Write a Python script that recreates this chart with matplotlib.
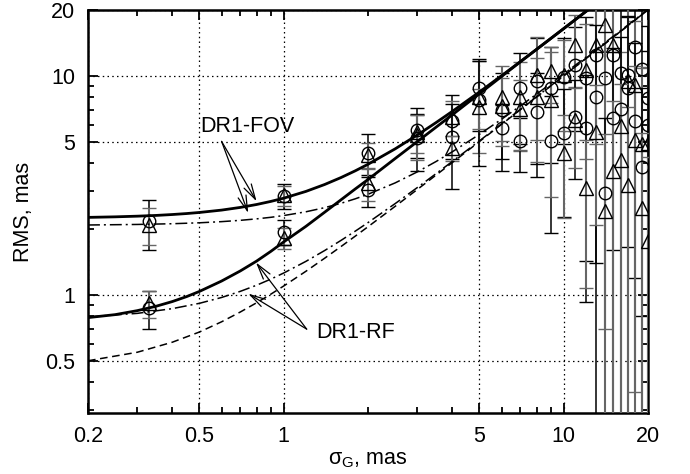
import numpy as np
import matplotlib
matplotlib.use('Agg')
import matplotlib.pyplot as plt
from matplotlib.ticker import FixedLocator, FixedFormatter, NullFormatter

plt.rcParams['font.family'] = ['Liberation Sans', 'DejaVu Sans']
plt.rcParams['mathtext.fontset'] = 'custom'
plt.rcParams['mathtext.rm'] = 'Liberation Sans'
plt.rcParams['mathtext.it'] = 'Liberation Sans:italic'

# ---------------- data ----------------
sigma = [0.33, 1, 2, 3, 4, 5, 6, 7, 8, 9, 10, 11, 12, 13, 14, 15, 16, 17, 18, 19, 20]

circ_a = [2.17, 2.84, 4.45, 5.67, 6.2, 8.8, 7.0, 8.8, 9.45, 8.8, 9.9, 11.2, 9.8, 12.5, 9.8, 12.5, 10.3, 10.1, 13.6, 10.8, 7.93]
circ_a_err = [0.56, 0.36, 0.98, 1.45, 2.0, 3.2, 3.3, 3.9, 5.5, 4.8, 5.0, 5.6, 8.87, 11.1, 12.0, 10.9, 12.0, 8.45, 12.4, 10.0, 9.0]

tri_a = [2.10, 2.85, 4.37, 5.55, 6.5, 8.05, 8.05, 8.05, 10.1, 10.5, 10.1, 13.9, 10.7, 13.9, 17.1, 13.9, 5.9, 9.45, 9.1, 4.9, 4.94]
tri_a_err = [0.40, 0.30, 0.60, 1.10, 1.2, 3.6, 3.0, 3.5, 5.0, 3.0, 4.5, 5.0, 6.5, 9.0, 16.4, 15.0, 7.0, 12.0, 8.74, 6.0, 6.0]

circ_b = [0.87, 1.95, 3.03, 5.2, 5.26, 7.8, 5.8, 5.03, 6.87, 5.03, 5.48, 6.5, 5.78, 8.05, 2.94, 6.42, 7.1, 8.8, 6.2, 3.86, 6.0]
circ_b_err = [0.17, 0.26, 0.50, 1.50, 2.2, 3.9, 1.6, 1.4, 3.4, 3.1, 3.2, 3.1, 4.35, 9.0, 3.5, 7.0, 8.0, 10.0, 8.0, 5.0, 7.0]

tri_b = [0.92, 1.82, 3.25, 5.4, 4.7, 7.25, 7.3, 7.1, 8.05, 7.8, 4.45, 6.3, 3.08, 5.58, 2.41, 3.67, 4.15, 3.19, 5.1, 2.5, 1.76]
tri_b_err = [0.13, 0.20, 0.55, 1.25, 0.6, 1.5, 2.5, 2.5, 4.0, 5.0, 2.2, 2.5, 2.0, 3.5, 3.0, 4.0, 5.0, 4.0, 6.0, 3.0, 2.5]

solid_x = [0.2, 0.25, 0.3, 0.35, 0.4, 0.45, 0.5, 0.6, 0.7, 0.8, 0.9, 1.0, 1.2, 1.4, 1.6, 1.8,
           2.0, 2.5, 3.0, 3.5, 4.0, 5, 6, 7, 8, 10, 12, 13]
fov_solid = [2.264, 2.277, 2.293, 2.311, 2.333, 2.357, 2.384, 2.444, 2.514, 2.592, 2.678, 2.770,
             2.974, 3.198, 3.438, 3.691, 3.955, 4.650, 5.379, 6.129, 6.894, 8.452, 10.033, 11.628,
             13.231, 16.453, 19.688, 21.307]
rf_solid = [0.79, 0.815, 0.85, 0.89, 0.935, 0.985, 1.04, 1.16, 1.29, 1.43, 1.585, 1.75,
            2.06, 2.39, 2.72, 3.05, 3.37, 4.2, 5.02, 5.84, 6.65, 8.3, 9.95, 11.6,
            13.22, 16.45, 19.69, 21.31]

line_x = [0.2, 0.3, 0.4, 0.5, 0.6, 0.7, 0.8, 0.9, 1.0, 1.2, 1.4, 1.6, 1.8, 2.0, 2.5, 3.0, 3.5,
          4.0, 5, 6, 7, 8, 10, 12, 15, 20]
fov_dashdot = [2.090, 2.102, 2.118, 2.139, 2.165, 2.195, 2.229, 2.266, 2.308, 2.401, 2.507,
               2.624, 2.751, 2.886, 3.252, 3.651, 4.071, 4.509, 5.415, 6.350, 7.303, 8.266,
               10.214, 12.179, 15.144, 20.108]
rf_dashdot = [0.796, 0.826, 0.868, 0.918, 0.976, 1.041, 1.110, 1.184, 1.262, 1.426, 1.598,
              1.776, 1.958, 2.143, 2.616, 3.097, 3.584, 4.074, 5.059, 6.049, 7.042, 8.037,
              10.030, 12.025, 15.020, 20.015]
rf_dashed = [0.502, 0.549, 0.610, 0.679, 0.756, 0.838, 0.923, 1.011, 1.101, 1.285, 1.474,
             1.665, 1.858, 2.052, 2.542, 3.035, 3.530, 4.026, 5.021, 6.018, 7.015, 8.013,
             10.011, 12.009, 15.007, 20.005]

x_major = [0.2, 0.5, 1, 5, 10, 20]
x_major_labels = ['0.2', '0.5', '1', '5', '10', '20']
x_minor = [0.3, 0.4, 0.6, 0.7, 0.8, 0.9, 2, 3, 4, 6, 7, 8, 9]
y_major = [0.5, 1, 5, 10, 20]
y_major_labels = ['0.5', '1', '5', '10', '20']
y_minor = [0.3, 0.4, 0.6, 0.7, 0.8, 0.9, 2, 3, 4, 6, 7, 8, 9]

# ---------------- figure ----------------
fig = plt.figure(figsize=(6.9, 4.74), dpi=100)
ax = fig.add_axes([88/690, 61/474, 560/690, 403/474])
ax.set_xscale('log')
ax.set_yscale('log')

lw_thin = 1.1
ax.plot(solid_x, fov_solid, color='k', lw=2.0, zorder=4)
ax.plot(solid_x, rf_solid, color='k', lw=2.0, zorder=4)
ax.plot(line_x, fov_dashdot, color='k', lw=lw_thin, dashes=[7.8, 2.6, 1.3, 2.6], zorder=4)
ax.plot(line_x, rf_dashdot, color='k', lw=lw_thin, dashes=[7.8, 2.6, 1.3, 2.6], zorder=4)
ax.plot(line_x, rf_dashed, color='k', lw=lw_thin, dashes=[5, 3], zorder=4)

series = [
    (circ_a, circ_a_err, 'o', 'black'),
    (tri_a, tri_a_err, '^', '0.4'),
    (circ_b, circ_b_err, 'o', 'black'),
    (tri_b, tri_b_err, '^', '0.4'),
]
for yv, ev, mk, ec in series:
    yv = np.asarray(yv, float)
    ev = np.asarray(ev, float)
    lower = np.minimum(ev, yv - 1e-3)
    ax.errorbar(sigma, yv, yerr=[lower, ev], fmt=mk, mfc='none', mec='k',
                mew=1.0, ms=9.5 if mk == '^' else 9, ecolor=ec,
                elinewidth=1.1 if ec == 'black' else 1.5, capsize=5,
                capthick=1.0, ls='none', zorder=3)

ax.set_xlim(0.2, 20)
ax.set_ylim(0.29, 20)

ax.xaxis.set_major_locator(FixedLocator(x_major))
ax.xaxis.set_major_formatter(FixedFormatter(x_major_labels))
ax.xaxis.set_minor_locator(FixedLocator(x_minor))
ax.xaxis.set_minor_formatter(NullFormatter())
ax.yaxis.set_major_locator(FixedLocator(y_major))
ax.yaxis.set_major_formatter(FixedFormatter(y_major_labels))
ax.yaxis.set_minor_locator(FixedLocator(y_minor))
ax.yaxis.set_minor_formatter(NullFormatter())

ax.set_axisbelow(True)
ax.grid(True, which='major', color='k', lw=0.9, ls=(0, (1.2, 2.6)))

ax.tick_params(which='both', direction='in', top=True, right=True, labelsize=15.5, width=1.3)
ax.tick_params(which='major', length=7, pad=9)
ax.tick_params(which='minor', length=4)
for sp in ax.spines.values():
    sp.set_linewidth(1.8)

ax.set_xlabel('σ$_\\mathregular{G}$, mas', fontsize=15.5, labelpad=2)
ax.set_ylabel('RMS, mas', fontsize=15.5, labelpad=8)

# annotations
ap = dict(arrowstyle='->,head_length=0.55,head_width=0.15', lw=0.9, color='k',
          shrinkA=0, shrinkB=0, mutation_scale=20)
ax.annotate('', xy=(0.80, 2.68), xytext=(0.6, 5.03), arrowprops=ap, zorder=5)
ax.annotate('', xy=(0.747, 2.37), xytext=(0.6, 5.03), arrowprops=ap, zorder=5)
ax.text(0.502, 5.58, 'DR1-FOV', fontsize=15.5, ha='left', va='baseline', zorder=5)

ax.annotate('', xy=(0.796, 1.41), xytext=(1.208, 0.70), arrowprops=ap, zorder=5)
ax.annotate('', xy=(0.747, 1.016), xytext=(1.208, 0.70), arrowprops=ap, zorder=5)
ax.text(1.311, 0.635, 'DR1-RF', fontsize=15.5, ha='left', va='baseline', zorder=5)

fig.savefig('out.png', dpi=100)
